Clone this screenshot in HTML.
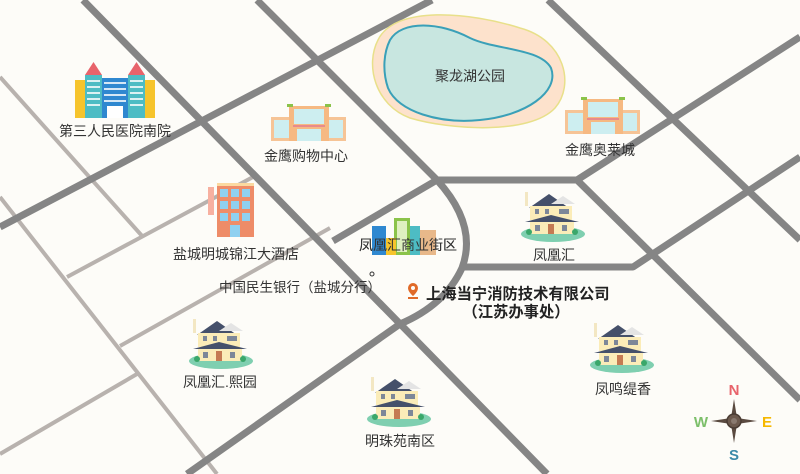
<!DOCTYPE html>
<html><head><meta charset="utf-8"><style>
html,body{margin:0;padding:0;background:#fdfcf8;}
svg{display:block}
text{font-family:"Liberation Sans","Noto Sans CJK SC",sans-serif;}
</style></head><body>
<svg width="800" height="474" viewBox="0 0 800 474" xmlns="http://www.w3.org/2000/svg">
<defs>
<g id="house">
  <ellipse cx="32" cy="44" rx="32" ry="8" fill="#7fcfb0"/>
  <rect x="4" y="2" width="3" height="14" fill="#f3e7c3"/>
  <polygon points="8,18 28,4 48,18" fill="#45506a"/>
  <polygon points="30,14 42,6 54,14" fill="#e4e4e4"/>
  <rect x="9" y="16" width="42" height="14" fill="#fbecb8"/>
  <polygon points="4,32 30,25 58,32" fill="#45506a"/>
  <rect x="9" y="32" width="44" height="12" fill="#fbecb8"/>
  <rect x="14" y="19" width="4" height="5" fill="#7d8798"/>
  <rect x="24" y="19" width="4" height="5" fill="#7d8798"/>
  <rect x="38" y="19" width="10" height="5" fill="#7d8798"/>
  <rect x="14" y="35" width="5" height="6" fill="#7d8798"/>
  <rect x="27" y="34" width="6" height="10" fill="#c57a52"/>
  <rect x="41" y="35" width="5" height="6" fill="#7d8798"/>
  <circle cx="8" cy="42" r="3" fill="#3aa76a"/><circle cx="54" cy="42" r="3" fill="#3aa76a"/>
</g>
<g id="mall">
  <rect x="0" y="14" width="22" height="24" fill="#f6c496"/>
  <rect x="3" y="17" width="16" height="18" fill="#cdeef0"/>
  <rect x="53" y="14" width="22" height="24" fill="#f6c496"/>
  <rect x="56" y="17" width="16" height="18" fill="#cdeef0"/>
  <rect x="18" y="3" width="40" height="35" fill="#f6b982"/>
  <rect x="23" y="6" width="30" height="15" fill="#cdeef0"/>
  <rect x="26" y="26" width="24" height="12" fill="#cdeef0"/>
  <rect x="22" y="22" width="32" height="2" fill="#e88b8b"/>
  <rect x="16" y="1" width="6" height="3" fill="#8bc34a"/><rect x="54" y="1" width="6" height="3" fill="#8bc34a"/>
</g>
</defs>

<g stroke="#b8b2ae" stroke-width="4" fill="none">
  <line x1="0" y1="197" x2="217" y2="474"/>
  <line x1="0" y1="77" x2="143" y2="237"/>
  <line x1="67" y1="277" x2="253" y2="177"/>
  <line x1="120" y1="346" x2="330" y2="228"/>
  <line x1="0" y1="454" x2="137" y2="374"/>
</g>
<g stroke="#858585" stroke-width="7" fill="none" stroke-linejoin="round">
  <line x1="83" y1="0" x2="547" y2="474"/>
  <line x1="0" y1="227" x2="432" y2="0"/>
  <line x1="257" y1="0" x2="437" y2="180"/>
  <line x1="333" y1="241" x2="437" y2="180"/>
  <path d="M437,180 Q478,225 462,268 Q445,305 400,324 L187,474"/>
  <polyline points="437,180 577,180 800,37"/>
  <line x1="577" y1="180" x2="800" y2="400"/>
  <line x1="548" y1="0" x2="800" y2="240"/>
  <polyline points="462,267 633,267 800,157"/>
</g>

<path d="M378,40 C395,5 470,12 520,28 C565,40 575,85 555,108 C530,135 450,130 410,118 C375,105 365,65 378,40 Z" fill="#fde2cc" stroke="#e8e08a" stroke-width="1.5"/>
<path d="M390,40 C402,20 440,22 470,38 C495,50 540,48 551,68 C560,92 525,116 480,120 C440,124 398,112 388,88 C382,70 384,52 390,40 Z" fill="#c8e6e0" stroke="#3aa0b8" stroke-width="2"/>
<text x="470" y="81" font-size="14" text-anchor="middle" style="fill:#333">聚龙湖公园</text>

<g transform="translate(75,62)">
  <rect x="0" y="18" width="12" height="38" fill="#f6c42c"/>
  <rect x="68" y="18" width="12" height="38" fill="#f6c42c"/>
  <rect x="10" y="13" width="17" height="43" fill="#4dbcc4"/>
  <rect x="53" y="13" width="17" height="43" fill="#4dbcc4"/>
  <polygon points="10,13 18.5,0 27,13" fill="#e8636b"/>
  <polygon points="53,13 61.5,0 70,13" fill="#e8636b"/>
  <rect x="27" y="16" width="26" height="40" fill="#2f88d0"/>
  <rect x="32" y="44" width="16" height="12" fill="#fff"/>
  <g fill="#fff" opacity="0.8">
    <rect x="12" y="18" width="13" height="2"/><rect x="12" y="24" width="13" height="2"/><rect x="12" y="30" width="13" height="2"/><rect x="12" y="36" width="13" height="2"/><rect x="12" y="42" width="13" height="2"/>
    <rect x="55" y="18" width="13" height="2"/><rect x="55" y="24" width="13" height="2"/><rect x="55" y="30" width="13" height="2"/><rect x="55" y="36" width="13" height="2"/><rect x="55" y="42" width="13" height="2"/>
    <rect x="29" y="20" width="22" height="2"/><rect x="29" y="26" width="22" height="2"/><rect x="29" y="32" width="22" height="2"/><rect x="29" y="38" width="22" height="2"/>
  </g>
</g>
<g style="fill:#333" font-size="14" text-anchor="middle">
<text x="115" y="136">第三人民医院南院</text>
<text x="306" y="161">金鹰购物中心</text>
<text x="600" y="155">金鹰奥莱城</text>
<text x="236" y="259">盐城明城锦江大酒店</text>
<text x="408" y="250">凤凰汇商业街区</text>
<text x="554" y="260">凤凰汇</text>
<text x="220" y="387">凤凰汇.熙园</text>
<text x="400" y="446">明珠苑南区</text>
<text x="623" y="394">凤鸣缇香</text>
<text x="300" y="292" font-size="13.5">中国民生银行（盐城分行）</text>
</g>

<use href="#mall" transform="translate(271,103)"/>
<use href="#mall" transform="translate(565,96)"/>

<g transform="translate(208,183)">
  <rect x="0" y="4" width="6" height="28" fill="#f7b0a0"/>
  <rect x="9" y="2" width="37" height="52" fill="#ee8c68"/>
  <rect x="9" y="0" width="37" height="3" fill="#fbd9a0"/>
  <g fill="#8fd0f0">
    <rect x="12" y="6" width="8" height="8"/><rect x="23" y="6" width="8" height="8"/><rect x="34" y="6" width="8" height="8"/>
    <rect x="12" y="18" width="8" height="8"/><rect x="23" y="18" width="8" height="8"/><rect x="34" y="18" width="8" height="8"/>
    <rect x="12" y="30" width="8" height="8"/><rect x="23" y="30" width="8" height="8"/><rect x="34" y="30" width="8" height="8"/>
    <rect x="22" y="42" width="10" height="12"/>
  </g>
</g>

<g transform="translate(372,218)">
  <rect x="22" y="0" width="16" height="37" fill="#8bc34a"/>
  <rect x="25" y="3" width="10" height="31" fill="#dff0c0"/>
  <rect x="0" y="8" width="14" height="29" fill="#2f88d0"/>
  <rect x="14" y="20" width="10" height="17" fill="#f6c42c"/>
  <rect x="38" y="8" width="10" height="29" fill="#4dbcc4"/>
  <rect x="48" y="12" width="16" height="25" fill="#e8b88a"/>
</g>
<text x="408" y="250" font-size="14" text-anchor="middle" style="fill:#333">凤凰汇商业街区</text>

<use href="#house" transform="translate(521,190)"/>
<use href="#house" transform="translate(189,317)"/>
<use href="#house" transform="translate(367,375)"/>
<use href="#house" transform="translate(590,321)"/>

<circle cx="372" cy="274" r="2" fill="none" stroke="#333" stroke-width="1"/>

<path d="M413,283 a5,5 0 0 1 5,5 c0,4 -5,8 -5,8 c0,0 -5,-4 -5,-8 a5,5 0 0 1 5,-5z" fill="#e06a28"/>
<circle cx="413" cy="288" r="2" fill="#fdfcf8"/>
<rect x="408" y="297" width="10" height="2" fill="#e06a28"/>
<text x="426" y="299" font-size="15.3" font-weight="bold" style="fill:#222">上海当宁消防技术有限公司</text>
<text x="516" y="317" font-size="15.3" font-weight="bold" text-anchor="middle" style="fill:#222">（江苏办事处）</text>

<g transform="translate(734,421)">
  <polygon points="0,-22 3,-3 0,0 -3,-3" fill="#5a4a40"/>
  <polygon points="0,22 3,3 0,0 -3,3" fill="#5a4a40"/>
  <polygon points="-23,0 -3,-3 0,0 -3,3" fill="#5a4a40"/>
  <polygon points="23,0 3,-3 0,0 3,3" fill="#5a4a40"/>
  <circle r="7" fill="#6d5a4e" stroke="#4a3c34" stroke-width="1.5"/>
  <circle r="3" fill="#8a7a70"/>
</g>
<text x="734" y="395" font-size="15" font-weight="bold" text-anchor="middle" style="fill:#e8636b">N</text>
<text x="701" y="427" font-size="15" font-weight="bold" text-anchor="middle" style="fill:#7cbf6a">W</text>
<text x="767" y="427" font-size="15" font-weight="bold" text-anchor="middle" style="fill:#f6b800">E</text>
<text x="734" y="460" font-size="15" font-weight="bold" text-anchor="middle" style="fill:#3a8aa8">S</text>
</svg>
</body></html>
